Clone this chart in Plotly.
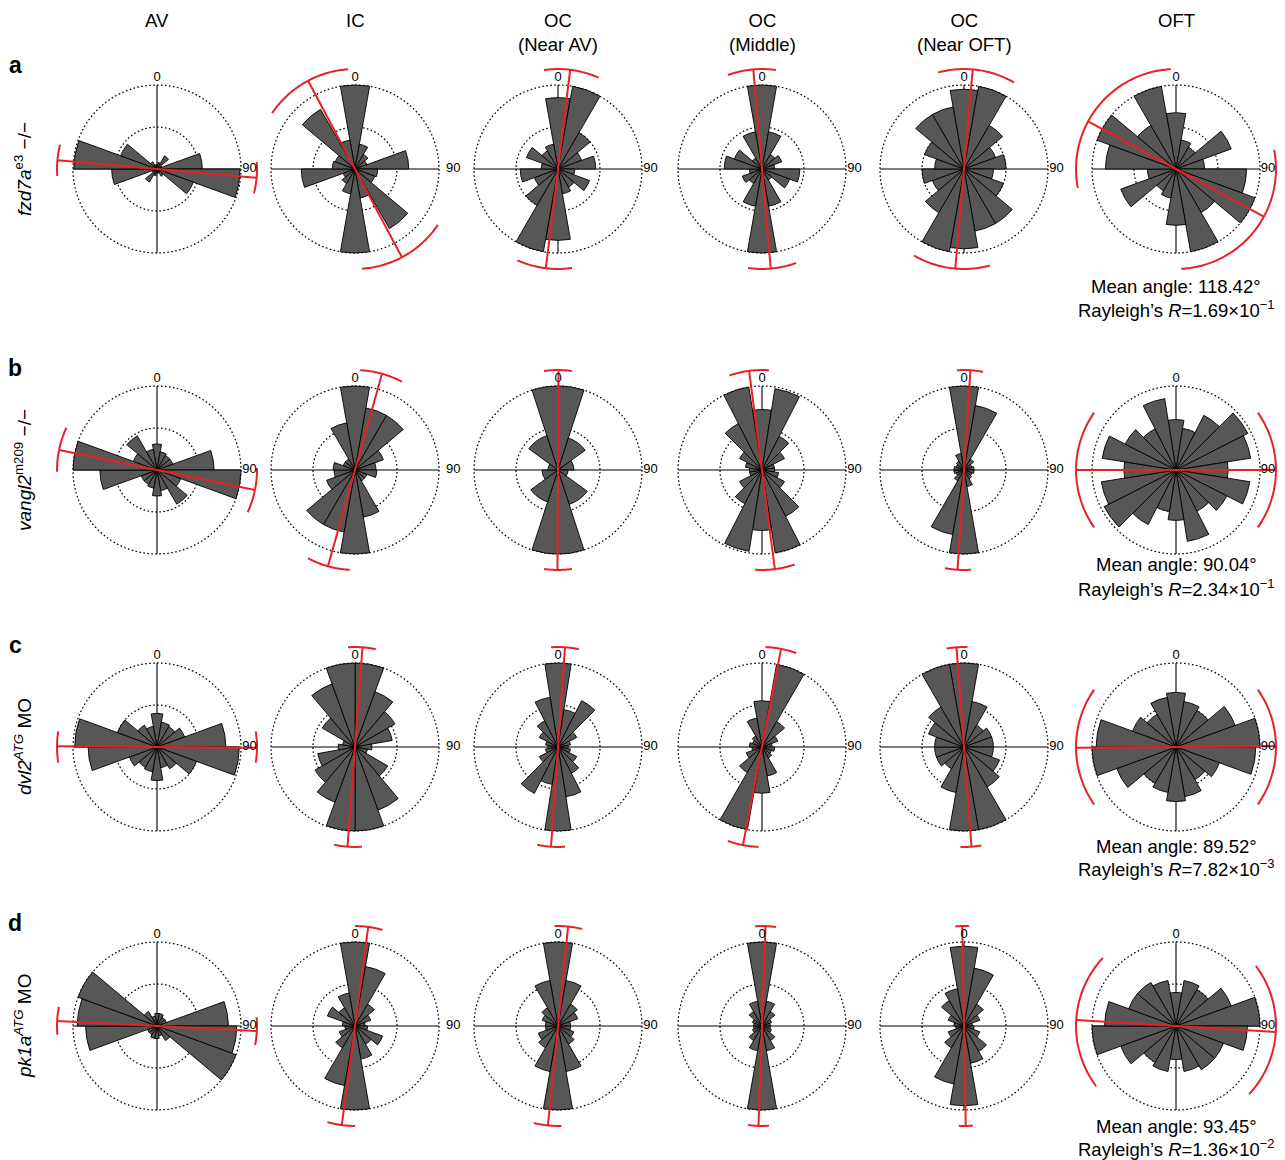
import numpy as np
import plotly.graph_objects as go

# ---------------------------------------------------------------- data
columns = ["AV", "IC", "OC<br>(Near AV)", "OC<br>(Middle)", "OC<br>(Near OFT)", "OFT"]
row_tags = ["a", "b", "c", "d"]
row_names = [
    "<i>fzd7a</i><sup>e3</sup> \u2212/\u2212",
    "<i>vangl2</i><sup>m209</sup> \u2212/\u2212",
    "<i>dvl2</i><sup><i>ATG</i></sup> MO",
    "<i>pk1a</i><sup><i>ATG</i></sup> MO",
]

# Axial rose histograms: one value per bin over half a turn (mirrored by 180 deg),
# relative to the outer ring. Bin width = 180 / len(values).
fzd7a_rose = [
    [0.05, 0.08, 0.18, 0.06, 0.54, 0.99, 0.46, 0.10, 0.05],
    [1.00, 0.30, 0.20, 0.15, 0.64, 0.27, 0.25, 0.82, 0.35],
    [0.85, 1.00, 0.50, 0.30, 0.45, 0.20, 0.40, 0.25, 0.30],
    [1.00, 0.45, 0.20, 0.25, 0.15, 0.45, 0.35, 0.15, 0.45],
    [0.95, 1.00, 0.60, 0.40, 0.50, 0.35, 0.50, 0.75, 0.75],
    [0.67, 0.35, 0.30, 0.70, 0.34, 0.84, 1.00, 0.60, 1.00],
]
vangl2_rose = [
    [0.31, 0.22, 0.20, 0.20, 0.68, 1.00, 0.30, 0.47, 0.25],
    [1.00, 0.75, 0.75, 0.36, 0.25, 0.26, 0.15, 0.15, 0.57],
    [1.00, 0.40, 0.19, 0.12, 0.43],
    [0.72, 0.98, 0.45, 0.30, 0.15, 0.15, 0.20, 0.30, 0.62, 1.00],
    [1.00, 0.78, 0.15, 0.10, 0.12, 0.12, 0.10, 0.12, 0.20],
    [0.60, 0.50, 0.73, 0.96, 0.90, 0.62, 0.89, 0.68, 0.55, 0.86],
]
dvl2_rose = [
    [0.40, 0.30, 0.28, 0.35, 0.82, 0.98, 0.50, 0.30, 0.25],
    [1.00, 0.70, 0.55, 0.45, 0.20, 0.15, 0.45, 0.80, 1.00],
    [1.00, 0.45, 0.62, 0.25, 0.15, 0.12, 0.15, 0.25, 0.35, 0.60],
    [0.55, 1.00, 0.35, 0.20, 0.12, 0.15, 0.12, 0.15, 0.35],
    [1.00, 0.55, 0.30, 0.35, 0.35, 0.35, 0.45, 0.55, 1.00],
    [0.65, 0.55, 0.50, 0.75, 1.00, 0.95, 0.55, 0.45, 0.60],
]
pk1a_rose = [
    [0.15, 0.15, 0.12, 0.12, 0.85, 0.95, 1.00, 0.20, 0.12],
    [1.00, 0.72, 0.30, 0.20, 0.12, 0.15, 0.35, 0.25, 0.40],
    [1.00, 0.55, 0.30, 0.25, 0.15, 0.15, 0.20, 0.25, 0.55],
    [1.00, 0.30, 0.20, 0.12, 0.10, 0.10, 0.12, 0.20, 0.30],
    [0.95, 0.70, 0.30, 0.20, 0.10, 0.12, 0.20, 0.35, 0.45],
    [0.40, 0.55, 0.50, 0.70, 1.00, 0.85, 0.60, 0.60, 0.55],
]
# centre of the first bin (deg)
fzd7a_bin0 = [0, 0, 0, 0, 0, 0]
vangl2_bin0 = [0, 0, 0, 0, 0, 0]
dvl2_bin0 = [0, 10, 0, 0, 0, 0]
pk1a_bin0 = [0, 0, 0, 0, 0, 0]

# mean axis and its confidence interval (deg, compass convention)
fzd7a_mean = [95, 152, 7, -5, 5, 118.42]
fzd7a_ci = [(86, 104), (124, 176), (-8, 24), (-20, 8), (-15, 30), (79, 177)]
vangl2_mean = [101.5, 15.7, 0.3, -7.4, 3.7, 90.04]
vangl2_ci = [(89, 115), (3, 28), (-8, 8), (-19, 4), (-4, 11), (55, 125)]
dvl2_mean = [90.5, 4.3, 4, 11, -4.3, 89.52]
dvl2_ci = [(81, 99), (-4, 12), (-4, 12), (2, 20), (-10, 2), (55, 125)]
pk1a_mean = [92.9, 7.6, 5.8, 2, -1, 93.45]
pk1a_ci = [(85, 101), (0, 16), (-2, 14), (-4, 8), (-5, 3), (53, 133)]

oft_stats = [
    ("118.42", "1.69", "\u22121"),
    ("90.04", "2.34", "\u22121"),
    ("89.52", "7.82", "\u22123"),
    ("93.45", "1.36", "\u22122"),
]

roses = [fzd7a_rose, vangl2_rose, dvl2_rose, pk1a_rose]
bin0s = [fzd7a_bin0, vangl2_bin0, dvl2_bin0, pk1a_bin0]
means = [fzd7a_mean, vangl2_mean, dvl2_mean, pk1a_mean]
cis = [fzd7a_ci, vangl2_ci, dvl2_ci, pk1a_ci]

# ---------------------------------------------------------------- layout
W, H = 1285, 1160
col_x = [157, 355, 558, 762, 964, 1176]
row_y = [169, 470, 747, 1026]
stat_y = [(286, 309), (565, 588), (846, 868), (1126, 1148)]
tag_y = [65, 368, 645, 923]
RING_PX = 84          # radius of the outer ring in pixels
UNDER = 1.03          # radial extent of the ring/cross subplot
OVER = 1.25           # radial extent of the bar subplot (outer ring = 1)
ARC_R = 1.19
ZERO_R = 1.09
NINETY_R = [1.10, 1.17, 1.10, 1.10, 1.10, 1.095]

FONT = "Liberation Sans, Arial, Helvetica, sans-serif"
RED = "#e8202a"
BAR = "#575757"
DOT = "1.6px,2.4px"
NOHOVER = dict(showlegend=False, hoverinfo="skip")


def domain(cx, cy, rpx):
    return dict(x=[(cx - rpx) / W, (cx + rpx) / W],
                y=[1 - (cy + rpx) / H, 1 - (cy - rpx) / H])


def hidden_polar(cx, cy, extent):
    return dict(
        domain=domain(cx, cy, RING_PX * extent),
        bgcolor="rgba(0,0,0,0)",
        radialaxis=dict(range=[0, extent], visible=False, showgrid=False),
        angularaxis=dict(rotation=90, direction="clockwise", visible=False,
                         showgrid=False, showline=False, ticks="", showticklabels=False),
    )


fig = go.Figure()
layout = {}
n_rows, n_cols = len(row_y), len(col_x)
n_panels = n_rows * n_cols
ring_theta = np.linspace(0, 360, 721)

# rings and reference cross, drawn beneath the bars
for i in range(n_rows):
    for j in range(n_cols):
        k = i * n_cols + j + 1
        name = "polar" if k == 1 else f"polar{k}"
        layout[name] = hidden_polar(col_x[j], row_y[i], UNDER)
        for ring in (0.5, 1.0):
            fig.add_trace(go.Scatterpolar(
                r=np.full(ring_theta.size, ring), theta=ring_theta, mode="lines",
                line=dict(color="black", width=1.25, dash=DOT), subplot=name, **NOHOVER))
        fig.add_trace(go.Scatterpolar(
            r=[1, 0, 1, None, 1, 0, 1], theta=[0, 0, 180, None, 90, 90, 270],
            mode="lines", line=dict(color="black", width=1.1), connectgaps=False,
            subplot=name, **NOHOVER))

# bars, mean axis, confidence arcs and angle labels
for i in range(n_rows):
    for j in range(n_cols):
        k = n_panels + i * n_cols + j + 1
        name = f"polar{k}"
        layout[name] = hidden_polar(col_x[j], row_y[i], OVER)

        vals = roses[i][j]
        nb = len(vals)
        width = 180.0 / nb
        theta = [bin0s[i][j] + width * b for b in range(2 * nb)]
        fig.add_trace(go.Barpolar(
            r=list(vals) + list(vals), theta=theta, width=[width] * (2 * nb),
            marker=dict(color=BAR, line=dict(color="black", width=0.9)),
            subplot=name, **NOHOVER))

        m = means[i][j]
        lo, hi = cis[i][j]
        fig.add_trace(go.Scatterpolar(
            r=[ARC_R, 0, ARC_R], theta=[m, m, m + 180], mode="lines",
            line=dict(color=RED, width=2), subplot=name, **NOHOVER))
        arc = np.linspace(lo, hi, 60)
        fig.add_trace(go.Scatterpolar(
            r=np.r_[np.full(60, ARC_R), [None], np.full(60, ARC_R)],
            theta=np.r_[arc, [None], arc + 180], mode="lines", connectgaps=False,
            line=dict(color=RED, width=2), subplot=name, **NOHOVER))

        fig.add_trace(go.Scatterpolar(
            r=[ZERO_R, NINETY_R[j]], theta=[0, 90], mode="text", text=["0", "90"],
            textposition="middle center", cliponaxis=False,
            textfont=dict(family=FONT, size=13, color="black"),
            subplot=name, **NOHOVER))

annotations = []
for j, name in enumerate(columns):
    annotations.append(dict(x=col_x[j] / W, y=1 - 8 / H, xref="paper", yref="paper",
                            text=name, showarrow=False, xanchor="center", yanchor="top",
                            font=dict(family=FONT, size=18.5, color="black")))
for i in range(n_rows):
    annotations.append(dict(x=15 / W, y=1 - tag_y[i] / H, xref="paper", yref="paper",
                            text=f"<b>{row_tags[i]}</b>", showarrow=False,
                            xanchor="center", yanchor="middle",
                            font=dict(family=FONT, size=23, color="black")))
    annotations.append(dict(x=23 / W, y=1 - row_y[i] / H, xref="paper", yref="paper",
                            text=row_names[i], showarrow=False, textangle=-90,
                            xanchor="center", yanchor="middle",
                            font=dict(family=FONT, size=19, color="black")))
    ang, rv, ex = oft_stats[i]
    y1, y2 = stat_y[i]
    annotations.append(dict(x=col_x[-1] / W, y=1 - y1 / H, xref="paper", yref="paper",
                            text=f"Mean angle: {ang}\u00b0", showarrow=False,
                            xanchor="center", yanchor="middle",
                            font=dict(family=FONT, size=18.5, color="black")))
    annotations.append(dict(x=col_x[-1] / W, y=1 - y2 / H, xref="paper", yref="paper",
                            text=f"Rayleigh\u2019s <i>R</i>={rv}\u00d710<sup>{ex}</sup>",
                            showarrow=False, xanchor="center", yanchor="middle",
                            font=dict(family=FONT, size=18.5, color="black")))

fig.update_layout(
    width=W, height=H, margin=dict(l=0, r=0, t=0, b=0),
    paper_bgcolor="white", plot_bgcolor="white",
    showlegend=False, annotations=annotations, **layout,
)

fig.write_html("out.html")
